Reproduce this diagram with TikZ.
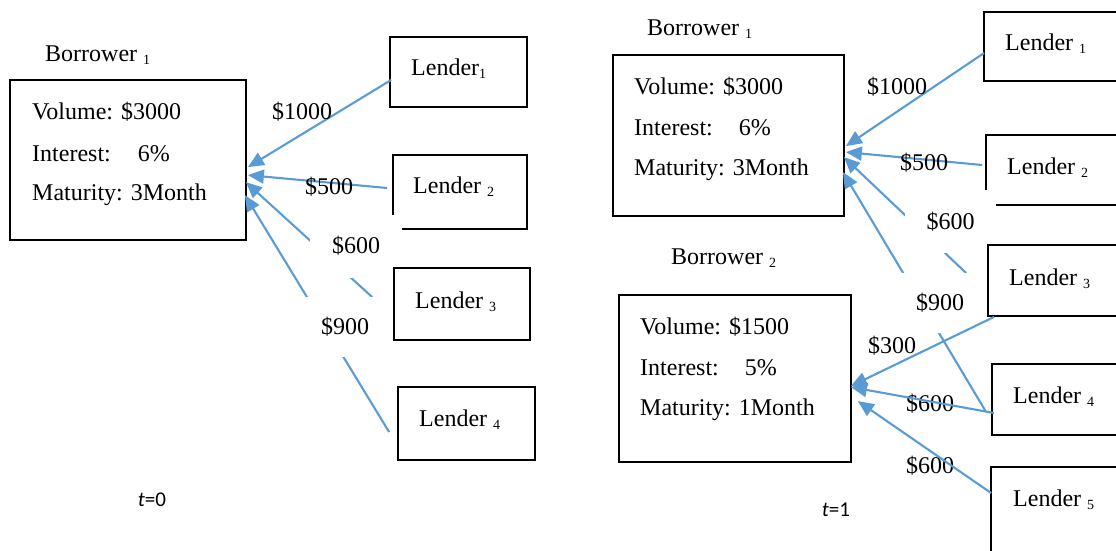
\documentclass[tikz,border=0pt]{standalone}
\usepackage{fontspec}
\setmainfont{Liberation Serif}
\newfontfamily\calib{Carlito}
\usetikzlibrary{arrows.meta,calc}
\definecolor{abl}{HTML}{5B9BD5}
\newcommand\sbs[1]{\raisebox{-3pt}{\fontsize{14}{14}\selectfont #1}}
\begin{document}
\begin{tikzpicture}[x=1pt,y=-1pt,
  bx/.style={draw=black,line width=1.8pt,inner sep=0},
  txt/.style={anchor=west,inner sep=0,font=\fontsize{24}{28}\selectfont},
  lbl/.style={inner sep=0,font=\fontsize{24}{28}\selectfont},
  cover/.style={fill=white,inner sep=0,font=\fontsize{24}{28}\selectfont},
  conn/.style={draw=abl,line width=2.1pt,-{Triangle[length=16pt,width=14pt]}},
  tl/.style={inner sep=0,font=\calib\fontsize{21}{24}\selectfont}]
\useasboundingbox (0,0) rectangle (1116,551);

% ---------------- left panel (t=0) ----------------
\node[txt] (bw1) at (45,55) {Borrower \sbs{1}};
\node[bx,minimum width=236pt,minimum height=160pt] (b1) at (128,160) {};
\node[txt] (b1v) at (32,112) {Volume: \$3000};
\node[txt] (b1i) at (32,154) {Interest:\hspace{27pt}6\%};
\node[txt] (b1m) at (32,195) {Maturity: 3Month};

\node[bx,minimum width=137pt,minimum height=70pt] (l1) at (458.5,72) {};
\node[txt] (l1t) at (411,69) {Lender\sbs{1}};
\node[bx,minimum width=134pt,minimum height=74pt] (l2) at (460,192) {};
\node[txt] (l2t) at (413,187) {Lender \sbs{2}};
\node[bx,minimum width=137pt,minimum height=73pt] (l4) at (466.5,423.5) {};
\node[txt] (l4t) at (419,420) {Lender \sbs{4}};

\draw[conn] ($(l1.west)+(2,8)$) -- ($(b1.north east)+(1,88)$);
\draw[conn] ($(l2.west)+(-5,-4)$) -- ($(b1.north east)+(1,96)$);
\draw[conn] ($(l2.west)+(-20,105)$) coordinate (l3s) -- ($(b1.north east)+(-1,103)$);
\draw[conn] ($(l4.west)+(-8,8.5)$) -- ($(b1.north east)+(-2,116)$);

\node[lbl] (c1000) at (302,112) {\$1000};
\node[lbl] (c500) at (329,187) {\$500};
\node[cover,minimum width=92pt,minimum height=63pt] (c600) at (356,246) {\$600};
\node[cover,minimum width=90pt,minimum height=60pt] (c900) at (345,327) {\$900};

\node[bx,minimum width=136pt,minimum height=72pt] (l3) at (462,304) {};
\node[txt] (l3t) at (415,302) {Lender \sbs{3}};

\node[tl] (t0) at (152,500) {{\itshape t}=0};

% ---------------- right panel (t=1) ----------------
\node[txt] (rbw1) at (647,29) {Borrower \sbs{1}};
\node[bx,minimum width=231pt,minimum height=161pt] (rb1) at (728.5,135.5) {};
\node[txt] (rb1v) at (634,87) {Volume: \$3000};
\node[txt] (rb1i) at (634,128) {Interest:\hspace{26pt}6\%};
\node[txt] (rb1m) at (634,170) {Maturity: 3Month};

\node[txt] (rbw2) at (671,258) {Borrower \sbs{2}};
\node[bx,minimum width=232pt,minimum height=167pt] (rb2) at (735,378.5) {};
\node[txt] (rb2v) at (640,327) {Volume: \$1500};
\node[txt] (rb2i) at (640,368) {Interest:\hspace{26pt}5\%};
\node[txt] (rb2m) at (640,410) {Maturity: 1Month};

\node[bx,minimum width=156pt,minimum height=69pt] (rl1) at (1062,46.5) {};
\node[txt] (rl1t) at (1005,44) {Lender \sbs{1}};
\node[bx,minimum width=154pt,minimum height=70pt] (rl2) at (1063,170) {};
\node[txt] (rl2t) at (1007,168) {Lender \sbs{2}};
\node[bx,minimum width=148pt,minimum height=71pt] (rl4) at (1066,399.5) {};
\node[txt] (rl4t) at (1013,397) {Lender \sbs{4}};
\node[bx,minimum width=149pt,minimum height=103pt] (rl5) at (1065.5,518.5) {};
\node[txt] (rl5t) at (1013,500) {Lender \sbs{5}};

\draw[conn] ($(rl1.west)+(1,6.5)$) -- ($(rb1.north east)+(1,92)$);
\draw[conn] ($(rl2.west)+(-3,-5)$) -- ($(rb1.north east)+(1,98)$);
\draw[conn] ($(rl2.west)+(-19,103)$) coordinate (rl3s) -- ($(rb1.north east)+(-1,103)$);
\draw[conn] ($(rl4.west)+(-5,12.5)$) -- ($(rb1.north east)+(-2,118)$);

\node[lbl] (r1000) at (897,87) {\$1000};
\node[lbl] (r500) at (924,163) {\$500};
\node[cover,minimum width=91pt,minimum height=63pt] (r600a) at (950.5,221.5) {\$600};
\node[cover,minimum width=90pt,minimum height=60pt] (r900) at (940,303) {\$900};

\node[bx,minimum width=152pt,minimum height=71pt] (rl3) at (1064,280.5) {};
\node[txt] (rl3t) at (1009,279) {Lender \sbs{3}};

\node[lbl] (r300) at (892,346) {\$300};
\node[lbl] (r600b) at (930,404) {\$600};
\node[lbl] (r600c) at (930,466) {\$600};

\draw[conn] ($(rl3.south west)+(7,0)$) -- ($(rb2.north east)+(-1,92)$);
\draw[conn] ($(rl4.west)+(3,13.5)$) -- ($(rb2.north east)+(-1,93)$);
\draw[conn] ($(rl5.west)+(1,-25.5)$) -- ($(rb2.north east)+(6,107)$);

\node[tl] (t1) at (836,510) {{\itshape t}=1};
\end{tikzpicture}
\end{document}
